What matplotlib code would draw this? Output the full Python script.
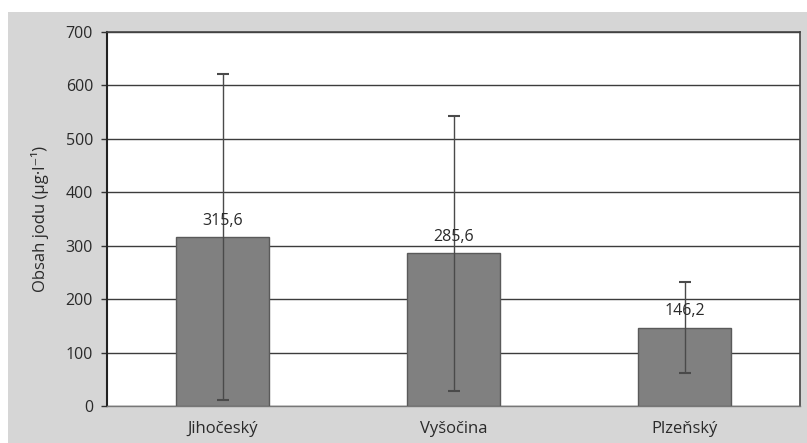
import matplotlib
matplotlib.use("Agg")
import matplotlib.pyplot as plt
from matplotlib.patches import Rectangle

# Data
regions = ["Jihočeský", "Vyšočina", "Plzeňský"]
means = [315.6, 285.6, 146.2]
sd = [305.0, 258.0, 85.0]
value_labels = ["315,6", "285,6", "146,2"]
yticks = [0, 100, 200, 300, 400, 500, 600, 700]

plt.rcParams['font.family'] = ['Open Sans', 'DejaVu Sans']

fig = plt.figure(figsize=(8.07, 4.43), dpi=100)
fig.patch.set_facecolor("white")
# grey chart-area background
fig.add_artist(Rectangle((8 / 807, 0), 1, 1 - 12 / 443, transform=fig.transFigure,
                         facecolor="#d6d6d6", edgecolor="none", zorder=0))

ax = fig.add_axes([107 / 807, 1 - 406 / 443, (800 - 107) / 807, (406 - 32) / 443])
ax.set_facecolor("white")

x = list(range(len(regions)))
ax.bar(x, means, width=0.4, color="#808080", edgecolor="#5a5a5a", linewidth=1.0, zorder=3)
ax.errorbar(x, means, yerr=sd, fmt="none", ecolor="#4a4a4a", elinewidth=1.0,
            capsize=4, capthick=1.5, zorder=4)

for xi, m, lab in zip(x, means, value_labels):
    ax.text(xi, m + 16, lab, ha="center", va="bottom", fontsize=11.5, color="#2a2a2a", zorder=5)

ax.set_xlim(-0.5, 2.5)
ax.set_ylim(0, 700)
ax.set_yticks(yticks)
ax.set_yticklabels([str(t) for t in yticks], fontsize=11.5, color="#2a2a2a")
ax.set_xticks(x)
ax.set_xticklabels(regions, fontsize=12, color="#2a2a2a")
ax.tick_params(axis="x", length=0, pad=11)
ax.tick_params(axis="y", length=4, width=1, color="#333333", pad=6)
ax.grid(axis="y", color="#3c3c3c", linewidth=1.0, zorder=1)
ax.set_axisbelow(True)

for side in ["top", "right"]:
    ax.spines[side].set_color("#444444")
    ax.spines[side].set_linewidth(1.2)
ax.spines["left"].set_color("#222222")
ax.spines["left"].set_linewidth(1.5)
ax.spines["bottom"].set_color("#777777")
ax.spines["bottom"].set_linewidth(1.0)

ax.set_ylabel("Obsah jodu (µg·l⁻¹)", fontsize=12, color="#2a2a2a", labelpad=12)

fig.savefig("out.png", dpi=100, facecolor=fig.get_facecolor())
